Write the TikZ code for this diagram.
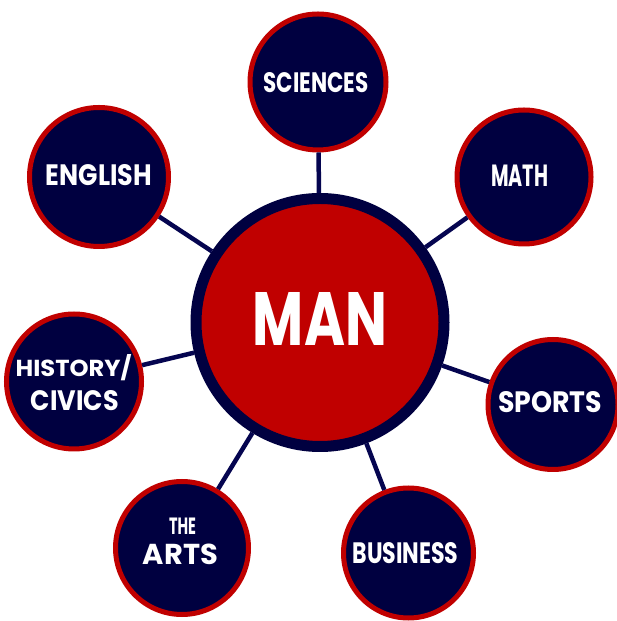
\documentclass[tikz,border=0pt]{standalone}
\usepackage{fontspec}
\setmainfont{Poppins}
\usepackage{graphicx}
\definecolor{navy}{RGB}{0,0,64}
\definecolor{navyline}{RGB}{5,5,80}
\definecolor{crimson}{RGB}{192,0,0}
\newcommand{\lbl}[3]{\resizebox{#1pt}{#2pt}{\bfseries #3}}
\begin{document}
\begin{tikzpicture}[x=1pt,y=1pt,
  hub/.style={circle,fill=crimson,draw=navy,line width=11pt,minimum size=248pt,inner sep=0pt},
  topic/.style={circle,fill=navy,draw=crimson,line width=5pt,inner sep=0pt},
  link/.style={draw=navyline,line width=4.5pt},
  lbltext/.style={text=white,inner sep=0pt,outer sep=0pt}]
\useasboundingbox (0,0) rectangle (616,621);
% topic circles
\node[topic,minimum size=136pt] (sci) at (318,539) {};
\node[topic,minimum size=134pt] (math) at (524,444) {};
\node[topic,minimum size=139pt] (eng) at (99,444) {};
\node[topic,minimum size=135pt] (hist) at (74,239.5) {};
\node[topic,minimum size=130pt] (sport) at (553,216.5) {};
\node[topic,minimum size=133pt] (arts) at (182,73) {};
\node[topic,minimum size=130pt] (bus) at (408.5,68) {};
\node[hub] (man) at (320,298.5) {};
% connectors
\foreach \t in {sci,math,eng,hist,sport,arts,bus}
  \draw[link] (man) -- (\t);
% labels
\node[lbltext] (tman) at (320,302) {\lbl{134}{53}{MAN}};
\node[lbltext] (tsci) at (316,538) {\lbl{105}{20}{SCIENCES}};
\node[lbltext] (tmath) at (519.5,445) {\lbl{57}{21.5}{MATH}};
\node[lbltext] (teng) at (99,446) {\lbl{106}{21}{ENGLISH}};
\node[lbltext] (thist) at (73.6,253) {\lbl{116}{22}{HISTORY/}};
\node[lbltext] (tciv) at (75,220) {\lbl{88}{20}{CIVICS}};
\node[lbltext] (tsport) at (550,219) {\lbl{104}{21}{SPORTS}};
\node[lbltext] (tthe) at (182.5,95) {\lbl{27}{16.5}{THE}};
\node[lbltext] (tarts) at (180.5,67) {\lbl{75}{20.5}{ARTS}};
\node[lbltext] (tbus) at (405.5,68) {\lbl{106}{21}{BUSINESS}};
\end{tikzpicture}
\end{document}
